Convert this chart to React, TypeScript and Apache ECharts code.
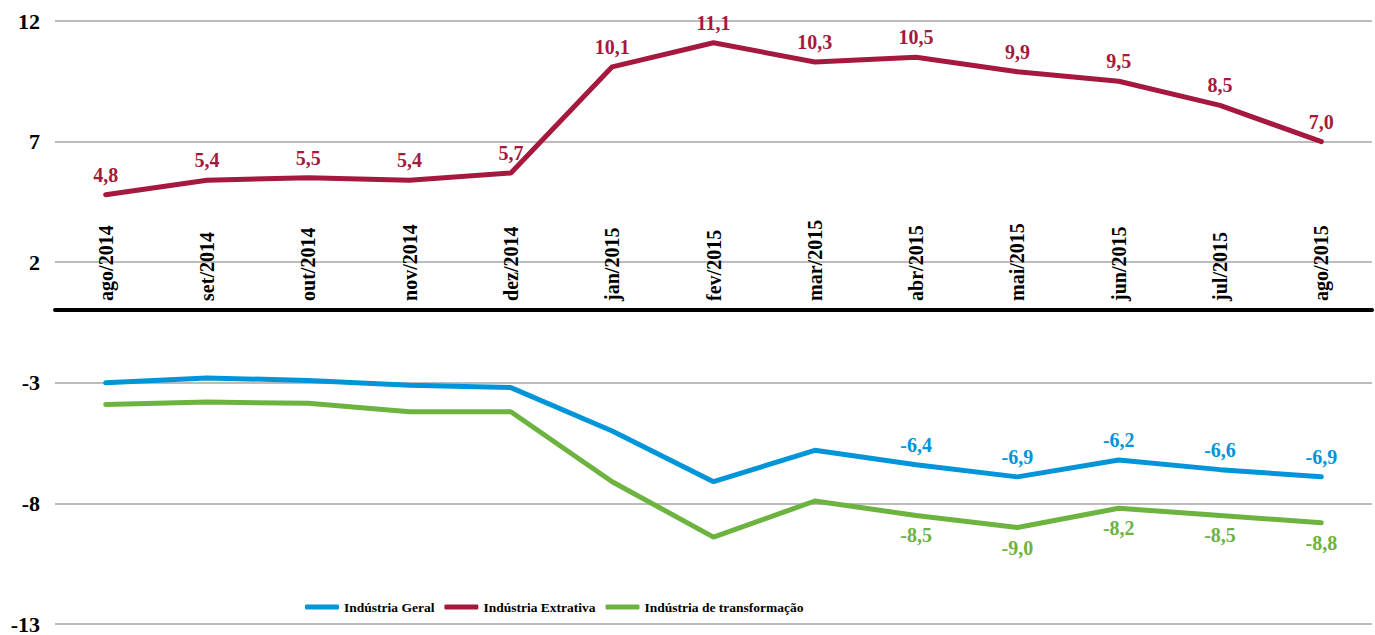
import React, { useEffect, useRef } from "react";
import * as echarts from "echarts";

const categories = [
  "ago/2014", "set/2014", "out/2014", "nov/2014", "dez/2014", "jan/2015", "fev/2015",
  "mar/2015", "abr/2015", "mai/2015", "jun/2015", "jul/2015", "ago/2015",
];
const geral = [-3.0, -2.8, -2.9, -3.1, -3.2, -5.0, -7.1, -5.8, -6.4, -6.9, -6.2, -6.6, -6.9];
const extrativa = [4.8, 5.4, 5.5, 5.4, 5.7, 10.1, 11.1, 10.3, 10.5, 9.9, 9.5, 8.5, 7.0];
const transformacao = [-3.9, -3.8, -3.85, -4.2, -4.2, -7.1, -9.4, -7.9, -8.5, -9.0, -8.2, -8.5, -8.8];
const labelFrom = 8; // labels shown from abr/2015 for the negative series

const FONT = "'Liberation Serif', 'Times New Roman', serif";
const fmt = (v: number) => v.toFixed(1).replace(".", ",");

const Y_MIN = -13;
const Y_MAX = 12;
const GRID_TOP = 21;
const GRID_BOTTOM = 10;
const H = 635;

export default function App() {
  const ref = useRef<HTMLDivElement>(null);
  useEffect(() => {
    if (!ref.current) return;
    const chart = echarts.init(ref.current, undefined, { renderer: "svg" });
    const gridH = H - GRID_TOP - GRID_BOTTOM;
    const zeroOffset = -(gridH * (0 - Y_MIN)) / (Y_MAX - Y_MIN);
    const mk = (vals: number[], from: number) =>
      vals.map((v, i) => ({ value: v, label: { show: i >= from } }));
    const labelStyle = (color: string, position: string) => ({
      show: true,
      position,
      distance: 10,
      color,
      fontFamily: FONT,
      fontWeight: "bold",
      fontSize: 20,
      formatter: (p: any) => fmt(p.value),
    });
    const lineSeries = (name: string, vals: number[], from: number, color: string, pos: string) => ({
      name,
      type: "line",
      data: mk(vals, from),
      symbol: "circle",
      symbolSize: 0,
      showSymbol: true,
      color,
      itemStyle: { color },
      lineStyle: { width: 5, color, cap: "round" },
      label: labelStyle(color, pos),
    });
    chart.setOption({
      animation: false,
      grid: { left: 55, right: 3, top: GRID_TOP, bottom: GRID_BOTTOM, containLabel: false },
      legend: {
        left: 300,
        top: 595,
        itemWidth: 34,
        itemHeight: 5,
        itemGap: 10,
        icon: "roundRect",
        textStyle: { fontFamily: FONT, fontWeight: "bold", fontSize: 13.5, color: "#000" },
        data: ["Indústria Geral", "Indústria Extrativa", "Indústria de transformação"],
      },
      xAxis: {
        type: "category",
        data: categories,
        boundaryGap: true,
        position: "bottom",
        offset: zeroOffset,
        axisLine: { show: true, onZero: false, lineStyle: { color: "#000", width: 4 } },
        axisTick: { show: false },
        axisLabel: {
          inside: true,
          rotate: 90,
          margin: 9,
          interval: 0,
          fontFamily: FONT,
          fontWeight: "bold",
          fontSize: 20,
          color: "#000",
        },
        splitLine: { show: false },
        z: 5,
      },
      yAxis: {
        type: "value",
        min: Y_MIN,
        max: Y_MAX,
        interval: 5,
        axisLine: { show: false },
        axisTick: { show: false },
        axisLabel: {
          margin: 15,
          fontFamily: FONT,
          fontWeight: "bold",
          fontSize: 22,
          color: "#000",
        },
        splitLine: { lineStyle: { color: "#A6A6A6", width: 1.5 } },
      },
      series: [
        lineSeries("Indústria Geral", geral, labelFrom, "#0095D9", "top"),
        lineSeries("Indústria Extrativa", extrativa, 0, "#A5193E", "top"),
        lineSeries("Indústria de transformação", transformacao, labelFrom, "#6CB33F", "bottom"),
      ],
    });
    return () => chart.dispose();
  }, []);
  return (
    <div
      ref={ref}
      style={{ position: "fixed", left: 0, top: 0, width: 1375, height: 635, background: "#fff" }}
    />
  );
}
